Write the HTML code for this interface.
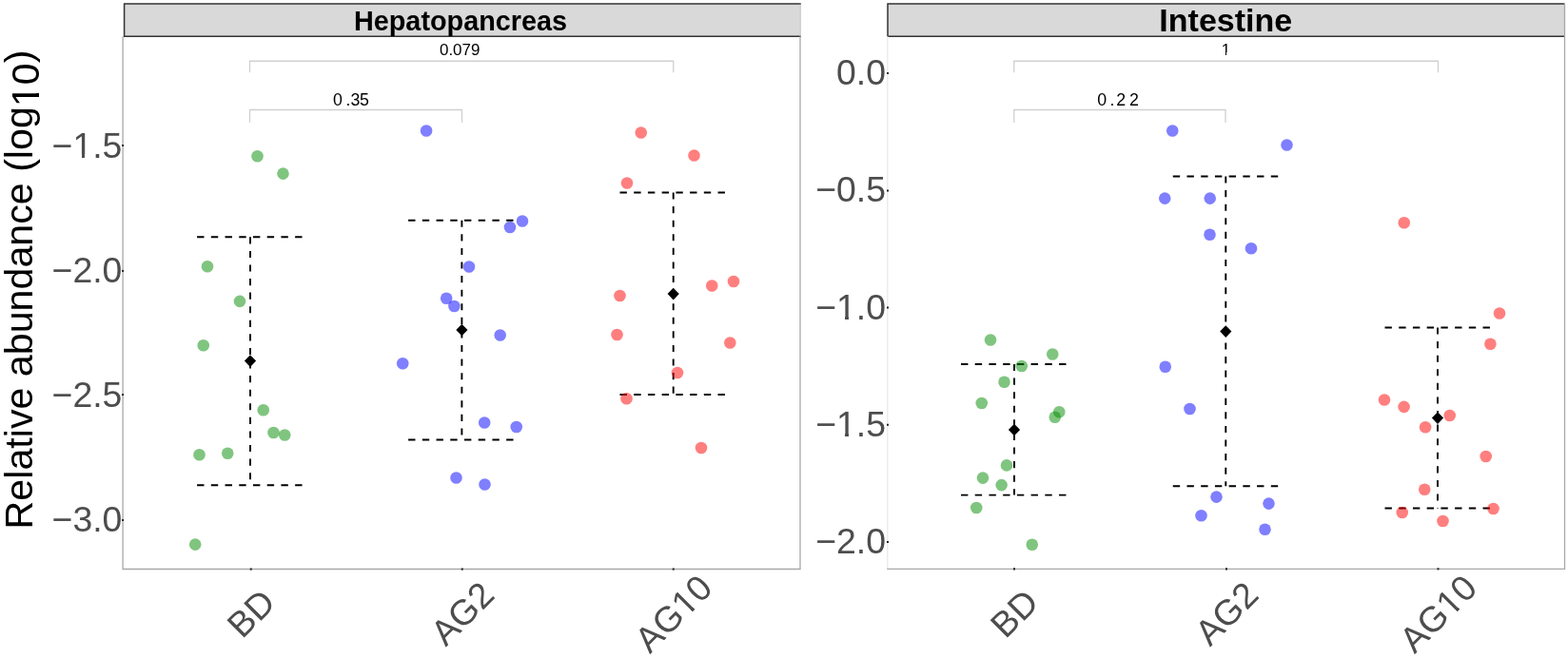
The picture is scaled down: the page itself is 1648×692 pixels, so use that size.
<!DOCTYPE html>
<html><head><meta charset="utf-8"><title>Relative abundance plot</title>
<style>
html,body{margin:0;padding:0;background:#fff;}
svg{display:block;}
text{font-family:"Liberation Sans",Arial,sans-serif;}
.eb{stroke:#000;stroke-width:1.9;fill:none;stroke-dasharray:7.4 7.32;}
.ev{stroke:#000;stroke-width:1.9;fill:none;stroke-dasharray:7.1 7.48;}
.br{stroke:#d0d0d0;stroke-width:1.3;fill:none;}
.tl{font-size:37.4px;fill:#4d4d4d;}
.xl{font-size:37.5px;fill:#4d4d4d;}
.pv{font-size:17px;fill:#000;}
</style></head><body>
<svg width="1648" height="692" viewBox="0 0 1648 692">
<rect x="0" y="0" width="1648" height="692" fill="#fff"/>
<!-- left strip -->
<rect x="130.6" y="4" width="711.2" height="34.2" fill="#d9d9d9"/>
<polyline points="841.8,4 130.6,4 130.6,38.2 841.8,38.2" fill="none" stroke="#333" stroke-width="1.5"/>
<text x="484" y="31.9" text-anchor="middle" style="font-size:28.8px;font-weight:bold;fill:#000">Hepatopancreas</text>
<polyline points="129.1,38.2 129.1,598.5 841,598.5 841,38.2" fill="none" stroke="#a8a8a8" stroke-width="1.3"/>
<line x1="841.1" y1="4.8" x2="841.1" y2="37.4" stroke="#cbcbcb" stroke-width="1.2"/>
<polyline points="262.5,76.25 262.5,64.25 707.75,64.25 707.75,76.25" class="br"/>
<polyline points="262.5,128.75 262.5,115.5 485.5,115.5 485.5,128.75" class="br"/>
<text class="pv" x="483.2" y="57.6" text-anchor="middle">0.079</text>
<text class="pv" x="349.9 363.5 368.4 377.9" y="110.5" style="font-size:17.8px">0.35</text>
<line x1="207.1" y1="249.3" x2="318" y2="249.3" class="eb"/>
<line x1="263" y1="249.3" x2="263" y2="510.3" class="ev"/>
<line x1="207.1" y1="510.3" x2="318" y2="510.3" class="eb"/>
<line x1="429.1" y1="231.75" x2="539.9" y2="231.75" class="eb"/>
<line x1="485.4" y1="231.75" x2="485.4" y2="462.5" class="ev"/>
<line x1="429.1" y1="462.5" x2="539.9" y2="462.5" class="eb"/>
<line x1="651.5" y1="202.5" x2="762.75" y2="202.5" class="eb"/>
<line x1="707.7" y1="202.5" x2="707.7" y2="415" class="ev"/>
<line x1="651.5" y1="415" x2="762.75" y2="415" class="eb"/>
<circle cx="270.5" cy="164.3" r="6.3" fill="rgba(0,139,0,0.5)"/>
<circle cx="297.5" cy="182.6" r="6.3" fill="rgba(0,139,0,0.5)"/>
<circle cx="218" cy="280.3" r="6.3" fill="rgba(0,139,0,0.5)"/>
<circle cx="252" cy="316.9" r="6.3" fill="rgba(0,139,0,0.5)"/>
<circle cx="213.75" cy="363.2" r="6.3" fill="rgba(0,139,0,0.5)"/>
<circle cx="276.75" cy="431.25" r="6.3" fill="rgba(0,139,0,0.5)"/>
<circle cx="287.5" cy="455" r="6.3" fill="rgba(0,139,0,0.5)"/>
<circle cx="299.25" cy="457.5" r="6.3" fill="rgba(0,139,0,0.5)"/>
<circle cx="209.5" cy="478.25" r="6.3" fill="rgba(0,139,0,0.5)"/>
<circle cx="239.25" cy="476.75" r="6.3" fill="rgba(0,139,0,0.5)"/>
<circle cx="205.2" cy="572.6" r="6.3" fill="rgba(0,139,0,0.5)"/>
<circle cx="448.1" cy="137.5" r="6.3" fill="rgba(0,0,255,0.5)"/>
<circle cx="549" cy="232.5" r="6.3" fill="rgba(0,0,255,0.5)"/>
<circle cx="536" cy="239" r="6.3" fill="rgba(0,0,255,0.5)"/>
<circle cx="493" cy="280.5" r="6.3" fill="rgba(0,0,255,0.5)"/>
<circle cx="469.2" cy="313.75" r="6.3" fill="rgba(0,0,255,0.5)"/>
<circle cx="477.4" cy="322" r="6.3" fill="rgba(0,0,255,0.5)"/>
<circle cx="525.7" cy="352.5" r="6.3" fill="rgba(0,0,255,0.5)"/>
<circle cx="423.25" cy="382.25" r="6.3" fill="rgba(0,0,255,0.5)"/>
<circle cx="509.2" cy="444.5" r="6.3" fill="rgba(0,0,255,0.5)"/>
<circle cx="542.75" cy="449" r="6.3" fill="rgba(0,0,255,0.5)"/>
<circle cx="479.5" cy="502.5" r="6.3" fill="rgba(0,0,255,0.5)"/>
<circle cx="509.5" cy="509.5" r="6.3" fill="rgba(0,0,255,0.5)"/>
<circle cx="673.75" cy="139.5" r="6.3" fill="rgba(255,0,0,0.5)"/>
<circle cx="729.5" cy="163.5" r="6.3" fill="rgba(255,0,0,0.5)"/>
<circle cx="659" cy="192.5" r="6.3" fill="rgba(255,0,0,0.5)"/>
<circle cx="651.5" cy="311" r="6.3" fill="rgba(255,0,0,0.5)"/>
<circle cx="748.25" cy="300.5" r="6.3" fill="rgba(255,0,0,0.5)"/>
<circle cx="771" cy="296" r="6.3" fill="rgba(255,0,0,0.5)"/>
<circle cx="648.5" cy="352" r="6.3" fill="rgba(255,0,0,0.5)"/>
<circle cx="767.3" cy="360.5" r="6.3" fill="rgba(255,0,0,0.5)"/>
<circle cx="712" cy="392" r="6.3" fill="rgba(255,0,0,0.5)"/>
<circle cx="658.5" cy="419.25" r="6.3" fill="rgba(255,0,0,0.5)"/>
<circle cx="737" cy="471" r="6.3" fill="rgba(255,0,0,0.5)"/>
<polygon points="263.00,373.30 269.10,379.60 263.00,385.90 256.90,379.60" fill="#000"/>
<polygon points="485.40,340.70 491.50,347.00 485.40,353.30 479.30,347.00" fill="#000"/>
<polygon points="707.70,302.80 713.80,309.10 707.70,315.40 701.60,309.10" fill="#000"/>
<line x1="128.1" y1="153" x2="130.1" y2="153" stroke="#222" stroke-width="2"/>
<text class="tl" x="128.4" y="166.1" text-anchor="end">−1.5</text>
<line x1="128.1" y1="284.9" x2="130.1" y2="284.9" stroke="#222" stroke-width="2"/>
<text class="tl" x="128.4" y="297.1" text-anchor="end">−2.0</text>
<line x1="128.1" y1="415.1" x2="130.1" y2="415.1" stroke="#222" stroke-width="2"/>
<text class="tl" x="128.4" y="428.2" text-anchor="end">−2.5</text>
<line x1="128.1" y1="547" x2="130.1" y2="547" stroke="#222" stroke-width="2"/>
<text class="tl" x="128.4" y="559.2" text-anchor="end">−3.0</text>
<line x1="263.75" y1="597.5" x2="263.75" y2="599.6" stroke="#222" stroke-width="2"/>
<text class="xl" text-anchor="middle" transform="translate(272.95,654.3) rotate(-45)">BD</text>
<line x1="485.75" y1="597.5" x2="485.75" y2="599.6" stroke="#222" stroke-width="2"/>
<text class="xl" text-anchor="middle" transform="translate(494.95,654.3) rotate(-45)">AG2</text>
<line x1="707.75" y1="597.5" x2="707.75" y2="599.6" stroke="#222" stroke-width="2"/>
<text class="xl" text-anchor="middle" transform="translate(716.95,654.3) rotate(-45)">AG10</text>
<rect x="933" y="4" width="711.5" height="34.2" fill="#d9d9d9"/>
<polyline points="1644.5,4 933,4 933,38.2 1644.5,38.2" fill="none" stroke="#333" stroke-width="1.5"/>
<text x="1288.25" y="33.2" text-anchor="middle" style="font-size:34px;font-weight:bold;fill:#000">Intestine</text>
<line x1="932.8" y1="38.2" x2="932.8" y2="598.3" stroke="#ececec" stroke-width="1.5"/>
<polyline points="932.2,598.3 1644.5,598.3 1644.5,4" fill="none" stroke="#a8a8a8" stroke-width="1.3"/>
<polyline points="1065.75,76.25 1065.75,64.25 1511.5,64.25 1511.5,76.25" class="br"/>
<polyline points="1065.75,128.75 1065.75,115.5 1288,115.5 1288,128.75" class="br"/>
<text class="pv" x="1288.4" y="57.6" text-anchor="middle">1</text>
<text class="pv" x="1153.2 1166.5 1173.2 1186.9" y="110.5" style="font-size:17.8px">0.22</text>
<line x1="1010" y1="383" x2="1121" y2="383" class="eb"/>
<line x1="1066" y1="383" x2="1066" y2="520.6" class="ev"/>
<line x1="1010" y1="520.6" x2="1121" y2="520.6" class="eb"/>
<line x1="1232.75" y1="185.5" x2="1343.5" y2="185.5" class="eb"/>
<line x1="1288.3" y1="185.5" x2="1288.3" y2="511.25" class="ev"/>
<line x1="1232.75" y1="511.25" x2="1343.5" y2="511.25" class="eb"/>
<line x1="1455.5" y1="344.5" x2="1566" y2="344.5" class="eb"/>
<line x1="1511" y1="344.5" x2="1511" y2="534.5" class="ev"/>
<line x1="1455.5" y1="534.5" x2="1566" y2="534.5" class="eb"/>
<circle cx="1041" cy="357.5" r="6.3" fill="rgba(0,139,0,0.5)"/>
<circle cx="1106.25" cy="372.5" r="6.3" fill="rgba(0,139,0,0.5)"/>
<circle cx="1073.75" cy="385" r="6.3" fill="rgba(0,139,0,0.5)"/>
<circle cx="1055.5" cy="401.75" r="6.3" fill="rgba(0,139,0,0.5)"/>
<circle cx="1031.75" cy="424" r="6.3" fill="rgba(0,139,0,0.5)"/>
<circle cx="1113.25" cy="433.25" r="6.3" fill="rgba(0,139,0,0.5)"/>
<circle cx="1108.75" cy="438.75" r="6.3" fill="rgba(0,139,0,0.5)"/>
<circle cx="1058" cy="489.4" r="6.3" fill="rgba(0,139,0,0.5)"/>
<circle cx="1033" cy="502.6" r="6.3" fill="rgba(0,139,0,0.5)"/>
<circle cx="1052.6" cy="510.1" r="6.3" fill="rgba(0,139,0,0.5)"/>
<circle cx="1026.25" cy="534" r="6.3" fill="rgba(0,139,0,0.5)"/>
<circle cx="1084.75" cy="572.75" r="6.3" fill="rgba(0,139,0,0.5)"/>
<circle cx="1232.25" cy="137.5" r="6.3" fill="rgba(0,0,255,0.5)"/>
<circle cx="1352.5" cy="152.5" r="6.3" fill="rgba(0,0,255,0.5)"/>
<circle cx="1224.25" cy="208.6" r="6.3" fill="rgba(0,0,255,0.5)"/>
<circle cx="1271.75" cy="208.6" r="6.3" fill="rgba(0,0,255,0.5)"/>
<circle cx="1271.5" cy="246.75" r="6.3" fill="rgba(0,0,255,0.5)"/>
<circle cx="1315" cy="261.25" r="6.3" fill="rgba(0,0,255,0.5)"/>
<circle cx="1224.75" cy="385.75" r="6.3" fill="rgba(0,0,255,0.5)"/>
<circle cx="1250.5" cy="430" r="6.3" fill="rgba(0,0,255,0.5)"/>
<circle cx="1278.5" cy="522.6" r="6.3" fill="rgba(0,0,255,0.5)"/>
<circle cx="1262.5" cy="542.25" r="6.3" fill="rgba(0,0,255,0.5)"/>
<circle cx="1333.5" cy="529.6" r="6.3" fill="rgba(0,0,255,0.5)"/>
<circle cx="1329.5" cy="556.75" r="6.3" fill="rgba(0,0,255,0.5)"/>
<circle cx="1475.75" cy="234.25" r="6.3" fill="rgba(255,0,0,0.5)"/>
<circle cx="1576" cy="329.5" r="6.3" fill="rgba(255,0,0,0.5)"/>
<circle cx="1566.4" cy="361.8" r="6.3" fill="rgba(255,0,0,0.5)"/>
<circle cx="1455" cy="420.5" r="6.3" fill="rgba(255,0,0,0.5)"/>
<circle cx="1475.6" cy="427.9" r="6.3" fill="rgba(255,0,0,0.5)"/>
<circle cx="1523.7" cy="437" r="6.3" fill="rgba(255,0,0,0.5)"/>
<circle cx="1498.1" cy="449.3" r="6.3" fill="rgba(255,0,0,0.5)"/>
<circle cx="1561.7" cy="480" r="6.3" fill="rgba(255,0,0,0.5)"/>
<circle cx="1497.25" cy="514.75" r="6.3" fill="rgba(255,0,0,0.5)"/>
<circle cx="1473.75" cy="539" r="6.3" fill="rgba(255,0,0,0.5)"/>
<circle cx="1569.5" cy="535" r="6.3" fill="rgba(255,0,0,0.5)"/>
<circle cx="1516.5" cy="548" r="6.3" fill="rgba(255,0,0,0.5)"/>
<polygon points="1066.00,445.70 1072.10,452.00 1066.00,458.30 1059.90,452.00" fill="#000"/>
<polygon points="1288.30,342.30 1294.40,348.60 1288.30,354.90 1282.20,348.60" fill="#000"/>
<polygon points="1511.00,433.30 1517.10,439.60 1511.00,445.90 1504.90,439.60" fill="#000"/>
<line x1="932" y1="77" x2="934" y2="77" stroke="#222" stroke-width="2"/>
<text class="tl" x="931" y="89.0" text-anchor="end">0.0</text>
<line x1="932" y1="200.4" x2="934" y2="200.4" stroke="#222" stroke-width="2"/>
<text class="tl" x="931" y="212.4" text-anchor="end">−0.5</text>
<line x1="932" y1="323.5" x2="934" y2="323.5" stroke="#222" stroke-width="2"/>
<text class="tl" x="931" y="335.5" text-anchor="end">−1.0</text>
<line x1="932" y1="446.7" x2="934" y2="446.7" stroke="#222" stroke-width="2"/>
<text class="tl" x="931" y="458.7" text-anchor="end">−1.5</text>
<line x1="932" y1="570" x2="934" y2="570" stroke="#222" stroke-width="2"/>
<text class="tl" x="931" y="582.0" text-anchor="end">−2.0</text>
<line x1="1066" y1="597.3" x2="1066" y2="599.4" stroke="#222" stroke-width="2"/>
<text class="xl" text-anchor="middle" transform="translate(1075.2,654.3) rotate(-45)">BD</text>
<line x1="1289" y1="597.3" x2="1289" y2="599.4" stroke="#222" stroke-width="2"/>
<text class="xl" text-anchor="middle" transform="translate(1298.2,654.3) rotate(-45)">AG2</text>
<line x1="1511.5" y1="597.3" x2="1511.5" y2="599.4" stroke="#222" stroke-width="2"/>
<text class="xl" text-anchor="middle" transform="translate(1520.7,654.3) rotate(-45)">AG10</text>
<text transform="translate(34.15,556.4) rotate(-90)" style="font-size:41.2px;fill:#000">Relative abundance (log<tspan dy="7.2">10</tspan><tspan dy="-7.2">)</tspan></text>
<g fill="#fff" shape-rendering="crispEdges">
<rect x="76.95" y="162.20" width="8.86" height="6.90"/><rect x="89.11" y="162.20" width="8.02" height="6.90"/>
<g transform="translate(716.95,654.3) rotate(-45)"><rect x="6.77" y="-3.90" width="8.88" height="6.90"/><rect x="18.96" y="-3.90" width="8.04" height="6.90"/></g>
<rect x="1283.91" y="55.45" width="4.03" height="5.15"/><rect x="1289.44" y="55.45" width="3.64" height="5.15"/>
<rect x="879.55" y="331.60" width="8.86" height="6.90"/><rect x="891.71" y="331.60" width="8.02" height="6.90"/>
<rect x="879.55" y="454.80" width="8.86" height="6.90"/><rect x="891.71" y="454.80" width="8.02" height="6.90"/>
<g transform="translate(1520.7,654.3) rotate(-45)"><rect x="6.77" y="-3.90" width="8.88" height="6.90"/><rect x="18.96" y="-3.90" width="8.04" height="6.90"/></g>
<g transform="translate(34.15,556.4) rotate(-90)"><rect x="444.82" y="2.98" width="9.76" height="7.22"/><rect x="458.22" y="2.98" width="8.83" height="7.22"/></g>
</g>
</svg>
</body></html>
